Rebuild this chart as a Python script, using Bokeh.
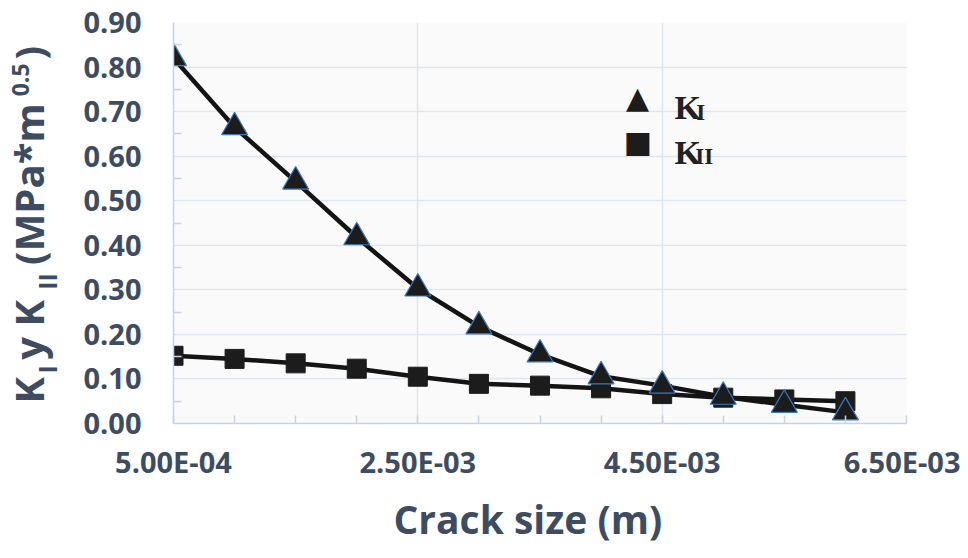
from math import pi
from bokeh.plotting import figure
from bokeh.layouts import row
from bokeh.models import Range1d, FixedTicker, Label, Title
from bokeh.embed import file_html
from bokeh.resources import INLINE

# ---- data ----
crack_size = [0.0005, 0.0010, 0.0015, 0.0020, 0.0025, 0.0030,
              0.0035, 0.0040, 0.0045, 0.0050, 0.0055, 0.0060]
k_i = [0.820, 0.665, 0.543, 0.418, 0.303, 0.218,
       0.155, 0.106, 0.085, 0.060, 0.042, 0.025]
k_ii = [0.152, 0.145, 0.135, 0.123, 0.105, 0.089,
        0.085, 0.079, 0.066, 0.058, 0.054, 0.050]

x_tick_values = [0.0005, 0.0025, 0.0045, 0.0065]
x_tick_labels = ["5.00E-04", "2.50E-03", "4.50E-03", "6.50E-03"]
x_minor_values = [0.0005, 0.0010, 0.0015, 0.0020, 0.0025, 0.0030, 0.0035,
                  0.0040, 0.0045, 0.0050, 0.0055, 0.0060, 0.0065]
y_tick_values = [0.0, 0.1, 0.2, 0.3, 0.4, 0.5, 0.6, 0.7, 0.8, 0.9]
y_tick_labels = ["0.00", "0.10", "0.20", "0.30", "0.40", "0.50",
                 "0.60", "0.70", "0.80", "0.90"]
y_minor_values = [0.05, 0.15, 0.25, 0.35, 0.45, 0.55, 0.65, 0.75, 0.85]

X0, X1 = 0.0005, 0.0065
Y0, Y1 = 0.0, 0.9

TXT = "#3e4c61"
FONT = "Open Sans"

TOTAL_W, TOTAL_H = 960, 550
LEFT_W = 80            # width of the strip holding the y-axis title
FL, FR, FT, FB = 170, 906, 22, 424   # frame edges in page pixels

MW = TOTAL_W - LEFT_W
p = figure(width=MW, height=TOTAL_H, output_backend="svg", toolbar_location=None,
           x_range=Range1d(X0, X1), y_range=Range1d(Y0, Y1),
           min_border_left=FL - LEFT_W, min_border_right=MW - (FR - LEFT_W),
           min_border_top=FT, min_border_bottom=TOTAL_H - FB)
p.background_fill_color = "#fafafa"
p.border_fill_color = "white"
p.outline_line_color = None

# axes
p.xaxis.ticker = FixedTicker(ticks=x_tick_values, minor_ticks=x_minor_values)
p.yaxis.ticker = FixedTicker(ticks=y_tick_values, minor_ticks=y_minor_values)
p.xaxis.major_label_overrides = dict(zip(x_tick_values, x_tick_labels))
p.yaxis.major_label_overrides = dict(zip(y_tick_values, y_tick_labels))
for ax in (p.xaxis[0], p.yaxis[0]):
    ax.axis_line_color = "#c6d3e3"
    ax.axis_line_width = 1.5
    ax.major_tick_in = 0
    ax.major_tick_out = 0
    ax.minor_tick_in = 8
    ax.minor_tick_out = 0
    ax.minor_tick_line_color = "#c6d3e3"
    ax.minor_tick_line_width = 1.5
    ax.major_label_text_font = FONT
    ax.major_label_text_font_style = "bold"
    ax.major_label_text_color = TXT
    ax.major_label_text_font_size = "29px"
p.xaxis.major_label_standoff = 18
p.yaxis.major_label_standoff = 32

p.xgrid.grid_line_color = "#dde5ef"
p.ygrid.grid_line_color = "#dde5ef"
p.xgrid.grid_line_width = 1.5
p.ygrid.grid_line_width = 1.5

# x axis title (left aligned on the frame, shifted right by offset)
p.add_layout(Title(text="Crack size (m)", align="left", offset=220,
                   standoff=12, text_font=FONT, text_font_style="bold",
                   text_font_size="39px", text_color=TXT), "below")

# series
p.line(crack_size, k_i, line_color="#141414", line_width=4.5)
p.line(crack_size, k_ii, line_color="#141414", line_width=4.5)
p.scatter(crack_size, k_ii, marker="square", size=19,
          fill_color="#1c1c1c", line_color="#1c1c1c", line_width=1)
p.scatter(crack_size, k_i, marker="triangle", size=26,
          fill_color="#1c1c1c", line_color="#3a78c2", line_width=1.2)


def px2x(px):
    return X0 + (px - FL) / (FR - FL) * (X1 - X0)


def py2y(py):
    return Y0 + (FB - py) / (FB - FT) * (Y1 - Y0)


def make_label(text, x, y, size, align="left", baseline="alphabetic",
               angle=0.0, font=FONT, color=TXT, style="bold"):
    return Label(x=x, y=y, text=text, angle=angle,
                 text_align=align, text_baseline=baseline,
                 text_font=font, text_font_style=style,
                 text_font_size=f"{size}px", text_color=color)


def plab(text, px, py, size, **kw):
    p.add_layout(make_label(text, px2x(px), py2y(py), size, **kw))


# legend (inside the frame)
plab("\u25B2", 636, 97, 30, align="center", baseline="middle",
     font="DejaVu Sans", color="#1c1c1c", style="normal")
plab("\u25A0", 636, 141, 30, align="center", baseline="middle",
     font="DejaVu Sans", color="#1c1c1c", style="normal")
plab("K", 673, 107, 34, font="Liberation Serif", color="#222222")
plab("I", 695, 112, 23, font="Liberation Serif", color="#222222")
plab("K", 673, 152, 34, font="Liberation Serif", color="#222222")
plab("II", 694, 156, 23, font="Liberation Serif", color="#222222")

# y axis title strip: its frame spans page x 0..80 and page y FT..FB
yfig = figure(width=LEFT_W, height=TOTAL_H, output_backend="svg",
              toolbar_location=None, x_axis_location=None,
              y_axis_location=None,
              x_range=Range1d(0, LEFT_W), y_range=Range1d(FB, FT),
              min_border_left=0, min_border_right=0,
              min_border_top=FT, min_border_bottom=TOTAL_H - FB)
yfig.grid.visible = False
yfig.outline_line_color = None
yfig.background_fill_color = "white"
yfig.border_fill_color = "white"

R = pi / 2
# rotated pieces of  K_I y K_II (MPa*m^0.5): (text, baseline x, start y, size)
for text, bx, by, size in [("K", 28, 404, 40), ("I", 46, 374, 25),
                           ("y K", 28, 360, 40), ("II", 46, 290, 25),
                           ("(MPa*m", 28, 265, 40), ("0.5", 20, 96, 23),
                           (")", 28, 59, 40)]:
    yfig.add_layout(make_label(text, bx, by, size, angle=R))

layout = row(yfig, p)
open("out.html", "w").write(file_html(layout, INLINE))
